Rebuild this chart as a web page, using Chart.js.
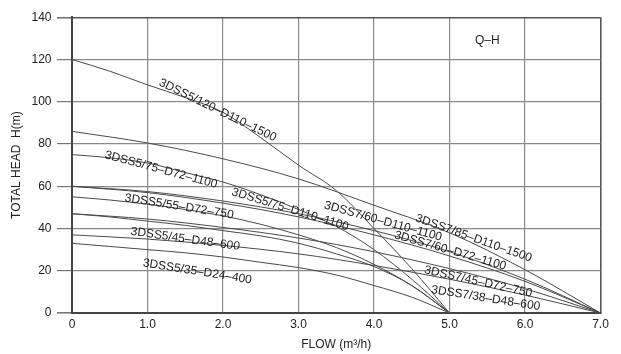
<!DOCTYPE html>
<html lang="en">
<head>
<meta charset="UTF-8">
<title>Q-H curves</title>
<script src="https://cdn.jsdelivr.net/npm/chart.js"></script>
<style>
  html, body { margin: 0; padding: 0; background: #fff; }
  #wrap { width: 621px; height: 354px; }
</style>
</head>
<body>
<div id="wrap"><canvas id="qh"></canvas></div>
<script>
// axis ticks
const flowTicks = [0, 1, 2, 3, 4, 5, 6, 7];
const headTicks = [0, 20, 40, 60, 80, 100, 120, 140];

// 3DSS5 pumps (run out at 5.0 m3/h)
const flow5 = [0, 0.5, 1, 1.5, 2, 2.5, 3, 3.5, 4, 4.5, 5];
const head5_120 = [120, 114.5, 108, 102, 95, 83, 70, 58, 40, 21, 0];
const head5_75 = [75, 73.5, 71, 66.5, 62, 56, 49, 41, 30, 16, 0];
const head5_55 = [55, 53.5, 51.5, 49, 46, 42, 37, 31, 23, 13, 0];
const head5_45 = [47, 45.5, 43.5, 41.5, 39, 36.5, 33, 28, 22, 13, 0];
const head5_35 = [33, 31.5, 30, 28.5, 26.5, 24, 21.5, 18, 13, 7.5, 0];

// 3DSS7 pumps (run out at 7.0 m3/h)
const flow7 = [0, 1, 2, 3, 4, 5, 6, 7];
const head7_85 = [86, 80.5, 73, 63.5, 51, 38, 20.5, 0];
const head7_60a = [60, 57.5, 53, 47, 39, 29, 16, 0];
const head7_60b = [60, 57, 52, 45.5, 37, 27, 15, 0];
const head7_45 = [47, 44.5, 40.5, 35.5, 29, 21, 11.5, 0];
const head7_38 = [37, 35, 32, 28, 22.5, 16, 8.5, 0];

// curve captions: text, anchor flow, anchor head, angle (deg)
const captions = [
  ['3DSS5/120–D110–1500', 1.93, 96, 26],
  ['3DSS5/75–D72–1100', 1.18, 67.8, 15],
  ['3DSS5/75–D110–1100', 2.89, 49, 17],
  ['3DSS5/55–D72–750', 1.42, 50.4, 9],
  ['3DSS5/45–D48–600', 1.50, 35, 8],
  ['3DSS5/35–D24–400', 1.66, 19.6, 9],
  ['3DSS7/60–D110–1100', 4.12, 43.4, 15.5],
  ['3DSS7/85–D110–1500', 5.32, 35.4, 19.5],
  ['3DSS7/60–D72–1100', 5.01, 29.5, 16],
  ['3DSS7/45–D72–750', 5.38, 14.8, 12.5],
  ['3DSS7/38–D48–600', 5.48, 7.0, 9]
];

const FONT = '"Liberation Sans", Arial, sans-serif';

function pts(xs, ys) {
  return xs.map((x, i) => ({ x: x, y: ys[i] }));
}

function curve(xs, ys) {
  return {
    data: pts(xs, ys),
    borderColor: '#4a4a4a',
    borderWidth: 1,
    pointRadius: 0,
    fill: false,
    cubicInterpolationMode: 'monotone'
  };
}

const captionPlugin = {
  id: 'captions',
  afterDatasetsDraw(chart) {
    const ctx = chart.ctx;
    const xs = chart.scales.x, ys = chart.scales.y;
    ctx.save();
    ctx.fillStyle = '#222';
    ctx.font = '12px ' + FONT;
    ctx.textAlign = 'center';
    ctx.textBaseline = 'middle';
    captions.forEach(([text, fx, hy, ang]) => {
      ctx.save();
      ctx.translate(xs.getPixelForValue(fx), ys.getPixelForValue(hy));
      ctx.rotate(ang * Math.PI / 180);
      ctx.fillText(text, 0, 0);
      ctx.restore();
    });
    // Q-H tag in the top right cell
    ctx.fillText('Q–H', xs.getPixelForValue(5.5), ys.getPixelForValue(129));
    ctx.restore();
  }
};

new Chart(document.getElementById('qh'), {
  type: 'line',
  data: {
    datasets: [
      curve(flow5, head5_120),
      curve(flow5, head5_75),
      curve(flow5, head5_55),
      curve(flow5, head5_45),
      curve(flow5, head5_35),
      curve(flow7, head7_85),
      curve(flow7, head7_60a),
      curve(flow7, head7_60b),
      curve(flow7, head7_45),
      curve(flow7, head7_38)
    ]
  },
  options: {
    responsive: true,
    maintainAspectRatio: false,
    animation: false,
    layout: { padding: { left: 0, right: 20.5, top: 17.3, bottom: 0 } },
    plugins: {
      legend: { display: false },
      tooltip: { enabled: false }
    },
    scales: {
      x: {
        type: 'linear',
        min: 0,
        max: 7,
        afterBuildTicks: s => { s.ticks = flowTicks.map(v => ({ value: v })); },
        afterFit: s => { s.height = 41; },
        ticks: {
          padding: 4,
          color: '#222',
          font: { family: FONT, size: 12 },
          callback: v => v === 0 ? '0' : v.toFixed(1)
        },
        grid: {
          drawTicks: false,
          color: c => (c.tick && (c.tick.value === 0 || c.tick.value === 7)) ? '#555' : '#8a8a8a',
          lineWidth: c => (c.tick && (c.tick.value === 0 || c.tick.value === 7)) ? 1.6 : 1.2
        },
        border: { display: true, color: '#444', width: 2 },
        title: {
          display: true,
          text: 'FLOW (m³/h)',
          color: '#222',
          font: { family: FONT, size: 12 },
          padding: { top: 0, bottom: 2 }
        }
      },
      y: {
        type: 'linear',
        min: 0,
        max: 140,
        afterBuildTicks: s => { s.ticks = headTicks.map(v => ({ value: v })); },
        afterFit: s => { s.width = 72; },
        ticks: {
          padding: 5.5,
          color: '#222',
          font: { family: FONT, size: 12 }
        },
        grid: {
          tickLength: 15,
          tickColor: '#777',
          color: c => (c.tick && (c.tick.value === 0 || c.tick.value === 140)) ? '#555' : '#8a8a8a',
          lineWidth: c => (c.tick && (c.tick.value === 0 || c.tick.value === 140)) ? 1.6 : 1.2
        },
        border: { display: true, color: '#444', width: 2 },
        title: {
          display: true,
          text: 'TOTAL HEAD  H(m)',
          color: '#222',
          font: { family: FONT, size: 12 },
          padding: { top: 9, bottom: 0 }
        }
      }
    }
  },
  plugins: [captionPlugin]
});
</script>
</body>
</html>
